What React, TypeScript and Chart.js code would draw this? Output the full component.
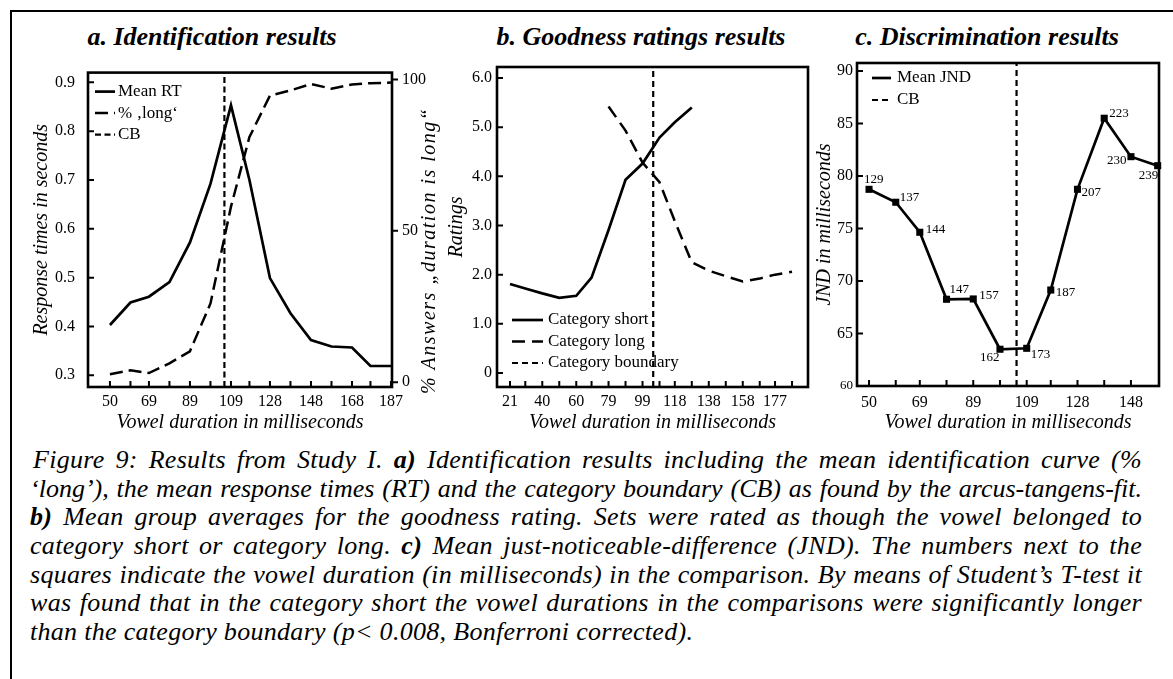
import React, { useEffect, useRef } from 'react';
import { Chart, registerables } from 'chart.js';

Chart.register(...registerables);

const SERIF = '"Liberation Serif", "Times New Roman", Times, serif';

// ---------------- Panel a: identification ----------------
const durationsA = [50, 60, 69, 79, 89, 99, 109, 118, 128, 138, 148, 158, 168, 177, 187];
const meanRT = [0.403, 0.449, 0.461, 0.491, 0.572, 0.692, 0.853, 0.7, 0.499, 0.427, 0.372, 0.359, 0.357, 0.319, 0.319];
const percentLong = [2.6, 3.9, 3.0, 6.2, 10.2, 26, 58, 81, 94.7, 96.4, 98.5, 97, 98.4, 98.8, 99];
const boundaryA = 105.8;
const rtTickValues = [0.3, 0.4, 0.5, 0.6, 0.7, 0.8, 0.9];
const percentTickValues = [0, 50, 100];
const rtRange = [0.276, 0.92];
const percentRange = [-1.6, 102.3];
const durationRangeA = [39.3, 187.5];

// ---------------- Panel b: goodness ratings ----------------
const durationTicksB = [21, 30, 40, 50, 60, 69, 79, 89, 99, 109, 118, 128, 138, 148, 158, 168, 177, 187];
const shortDurations = [21, 30, 40, 50, 60, 69, 79, 89, 99, 109, 118, 128];
const ratingShort = [1.81, 1.72, 1.62, 1.53, 1.57, 1.94, 2.91, 3.93, 4.26, 4.79, 5.1, 5.4];
const longDurations = [79, 89, 99, 109, 118, 128, 138, 148, 158, 168, 177, 187];
const ratingLong = [5.42, 4.93, 4.28, 3.88, 3.09, 2.25, 2.08, 1.97, 1.86, 1.92, 2.0, 2.06];
const boundaryB = 105.3;
const ratingTickValues = [0, 1, 2, 3, 4, 5, 6];
const ratingRange = [-0.285, 6.224];
const durationRangeB = [13.35, 196.4];

// ---------------- Panel c: discrimination ----------------
const durationsC = [50, 60, 69, 79, 89, 99, 109, 118, 128, 138, 148, 158];
const meanJND = [78.73, 77.5, 74.64, 68.26, 68.29, 63.5, 63.59, 69.14, 78.73, 85.5, 81.84, 80.98];
const comparisonDurations = [129, 137, 144, 147, 157, 162, 173, 187, 207, 223, 230, 239];
const durationTicksC = [50, 60, 69, 79, 89, 99, 109, 118, 128, 138, 148];
const jndTickValues = [60, 65, 70, 75, 80, 85, 90];
const boundaryC = 105.2;
const jndRange = [60, 90.76];
const durationRangeC = [45.5, 158.5];

// label placement (style only): offset of text left edge / middle from the marker
const jndLabelOffsets = [
  [-5, -10], [4, -5], [6, -3], [3, -10], [6, -3], [-20, 8],
  [4, 6], [5, 3], [4, 3], [5, -5], [-24, 4], [-19, 10],
];

const tickFont = { family: SERIF, size: 16, lineHeight: 1.2 };
const axisTitleFont = { family: SERIF, size: 20, style: 'italic' as const, lineHeight: 1.2 };

function frameAndTicks(spec: Record<string, { len: number; skip?: number[] }>) {
  return {
    id: 'frameAndTicks',
    afterDraw(chart: any) {
      const { ctx, chartArea: a } = chart;
      ctx.save();
      ctx.setLineDash([]);
      ctx.strokeStyle = '#000';
      ctx.lineWidth = 2.6;
      ctx.strokeRect(a.left, a.top, a.right - a.left, a.bottom - a.top);
      ctx.lineWidth = 2;
      Object.keys(spec).forEach((id) => {
        const s = chart.scales[id];
        const sp = spec[id];
        ctx.beginPath();
        s.ticks.forEach((t: any) => {
          if (sp.skip && sp.skip.includes(t.value)) return;
          const p = s.getPixelForValue(t.value);
          if (s.position === 'bottom') {
            ctx.moveTo(p, a.bottom);
            ctx.lineTo(p, a.bottom - sp.len);
          } else if (s.position === 'left') {
            ctx.moveTo(a.left, p);
            ctx.lineTo(a.left + sp.len, p);
          } else {
            ctx.moveTo(a.right, p);
            ctx.lineTo(a.right + sp.len, p);
          }
        });
        ctx.stroke();
      });
      ctx.restore();
    },
  };
}

function lineLegend(cfg: { x0: number; x1: number; xt: number; y0: number; dy: number; size: number }) {
  return {
    id: 'lineLegend',
    afterDraw(chart: any) {
      const { ctx, chartArea: a } = chart;
      ctx.save();
      ctx.font = `${cfg.size}px ${SERIF}`;
      ctx.fillStyle = '#000';
      ctx.strokeStyle = '#000';
      ctx.textBaseline = 'middle';
      ctx.textAlign = 'left';
      chart.data.datasets.forEach((ds: any, i: number) => {
        const y = a.top + cfg.y0 + i * cfg.dy;
        ctx.beginPath();
        ctx.setLineDash(ds.borderDash || []);
        ctx.lineWidth = ds.borderWidth;
        ctx.moveTo(a.left + cfg.x0, y);
        ctx.lineTo(a.left + cfg.x1, y);
        ctx.stroke();
        ctx.setLineDash([]);
        ctx.fillText(ds.label, a.left + cfg.xt, y);
      });
      ctx.restore();
    },
  };
}

// right-hand axis title, reading bottom-to-top like the left one
function rightAxisTitle(text: string, scaleId: string, fromRight: number, dyFromCenter: number) {
  return {
    id: 'rightAxisTitle',
    afterDraw(chart: any) {
      const { ctx, chartArea: a } = chart;
      const s = chart.scales[scaleId];
      ctx.save();
      ctx.translate(s.right - fromRight, (a.top + a.bottom) / 2 + dyFromCenter);
      ctx.rotate(-Math.PI / 2);
      ctx.font = `italic 20px ${SERIF}`;
      (ctx as any).letterSpacing = '1.5px';
      ctx.fillStyle = '#000';
      ctx.textAlign = 'center';
      ctx.textBaseline = 'middle';
      ctx.fillText(text, 0, 0);
      ctx.restore();
    },
  };
}

const pointLabels = {
  id: 'pointLabels',
  afterDatasetsDraw(chart: any) {
    const { ctx } = chart;
    const meta = chart.getDatasetMeta(0);
    ctx.save();
    ctx.font = `13px ${SERIF}`;
    ctx.fillStyle = '#000';
    ctx.textBaseline = 'middle';
    ctx.textAlign = 'left';
    meta.data.forEach((pt: any, i: number) => {
      const [dx, dy] = jndLabelOffsets[i];
      ctx.fillText(String(comparisonDurations[i]), pt.x + dx, pt.y + dy);
    });
    ctx.restore();
  },
};

function xScale(range: number[], tickValues: number[], height: number, labelPad: number, titlePad: number) {
  return {
    type: 'linear' as const,
    position: 'bottom' as const,
    min: range[0],
    max: range[1],
    afterBuildTicks: (s: any) => {
      s.ticks = tickValues.map((v) => ({ value: v }));
    },
    afterFit: (s: any) => {
      s.height = height;
    },
    grid: { display: false, drawTicks: false },
    border: { display: false },
    ticks: {
      color: '#000',
      font: tickFont,
      padding: labelPad,
      maxRotation: 0,
      autoSkip: false,
      callback: (v: any, i: number) => (i % 2 === 0 ? String(v) : ''),
    },
    title: {
      display: true,
      text: 'Vowel duration in milliseconds',
      color: '#000',
      font: axisTitleFont,
      padding: { top: 0, bottom: titlePad },
    },
  };
}

function yScale(
  position: 'left' | 'right',
  range: number[],
  tickValues: number[],
  width: number,
  labelPad: number,
  title: string,
  titlePad: number,
  fmt: (v: number) => string,
  font?: any
) {
  return {
    type: 'linear' as const,
    position,
    min: range[0],
    max: range[1],
    afterBuildTicks: (s: any) => {
      s.ticks = tickValues.map((v) => ({ value: v }));
    },
    afterFit: (s: any) => {
      s.width = width;
    },
    grid: { display: false, drawTicks: false },
    border: { display: false },
    ticks: {
      color: '#000',
      font: font || tickFont,
      padding: labelPad,
      autoSkip: false,
      callback: (v: any) => fmt(Number(v)),
    },
    title: {
      display: title !== '',
      text: title,
      color: '#000',
      font: axisTitleFont,
      padding: { top: titlePad, bottom: 0 },
    },
  };
}

const basePlugins = { legend: { display: false }, tooltip: { enabled: false }, title: { display: false } };

function makeChartA(canvas: HTMLCanvasElement) {
  return new Chart(canvas, {
    type: 'line',
    data: {
      datasets: [
        {
          label: 'Mean RT',
          data: durationsA.map((d, i) => ({ x: d, y: meanRT[i] })),
          yAxisID: 'y',
          borderColor: '#000',
          borderWidth: 2.7,
          pointRadius: 0,
        },
        {
          label: '% \u201Along\u2018',
          data: durationsA.map((d, i) => ({ x: d, y: percentLong[i] })),
          yAxisID: 'y1',
          borderColor: '#000',
          borderWidth: 2.5,
          borderDash: [13, 6],
          pointRadius: 0,
        },
        {
          label: 'CB',
          data: [
            { x: boundaryA, y: rtRange[0] },
            { x: boundaryA, y: rtRange[1] },
          ],
          yAxisID: 'y',
          borderColor: '#000',
          borderWidth: 2.2,
          borderDash: [6, 3.5],
          pointRadius: 0,
        },
      ],
    },
    options: {
      responsive: false,
      animation: false,
      layout: { padding: { top: 17, left: 0, right: 0, bottom: 0 } },
      plugins: basePlugins as any,
      scales: {
        x: xScale(durationRangeA, durationsA, 53, 5, 5) as any,
        y: yScale('left', rtRange, rtTickValues, 68, 13, 'Response times in seconds', 10, (v) => v.toFixed(1)) as any,
        y1: yScale('right', percentRange, percentTickValues, 58, 10, '', 0, (v) => String(v)) as any,
      },
    },
    plugins: [
      frameAndTicks({ x: { len: 6 }, y: { len: 6 }, y1: { len: 6 } }),
      lineLegend({ x0: 7, x1: 27, xt: 30, y0: 19, dy: 21.5, size: 17 }),
      rightAxisTitle('% Answers \u201Eduration is long\u201C', 'y1', 20, 21),
    ],
  });
}

function makeChartB(canvas: HTMLCanvasElement) {
  return new Chart(canvas, {
    type: 'line',
    data: {
      datasets: [
        {
          label: 'Category short',
          data: shortDurations.map((d, i) => ({ x: d, y: ratingShort[i] })),
          borderColor: '#000',
          borderWidth: 2.7,
          pointRadius: 0,
        },
        {
          label: 'Category long',
          data: longDurations.map((d, i) => ({ x: d, y: ratingLong[i] })),
          borderColor: '#000',
          borderWidth: 2.5,
          borderDash: [13, 7],
          pointRadius: 0,
        },
        {
          label: 'Category boundary',
          data: [
            { x: boundaryB, y: ratingRange[0] },
            { x: boundaryB, y: ratingRange[1] },
          ],
          borderColor: '#000',
          borderWidth: 2.2,
          borderDash: [6, 4],
          pointRadius: 0,
        },
      ],
    },
    options: {
      responsive: false,
      animation: false,
      layout: { padding: { top: 17, left: 0, right: 12, bottom: 0 } },
      plugins: basePlugins as any,
      scales: {
        x: xScale(durationRangeB, durationTicksB, 53, 5, 5) as any,
        y: yScale('left', ratingRange, ratingTickValues, 57, 5, 'Ratings', 5, (v) => (v === 0 ? '0' : v.toFixed(1))) as any,
      },
    },
    plugins: [
      frameAndTicks({ x: { len: 6 }, y: { len: 6 } }),
      lineLegend({ x0: 15, x1: 46, xt: 51, y0: 253, dy: 21.5, size: 17 }),
    ],
  });
}

function makeChartC(canvas: HTMLCanvasElement) {
  return new Chart(canvas, {
    type: 'line',
    data: {
      datasets: [
        {
          label: 'Mean JND',
          data: durationsC.map((d, i) => ({ x: d, y: meanJND[i] })),
          borderColor: '#000',
          backgroundColor: '#000',
          borderWidth: 2.7,
          pointStyle: 'rect',
          pointRadius: 5,
          pointBorderWidth: 0,
          clip: false as any,
        },
        {
          label: 'CB',
          data: [
            { x: boundaryC, y: jndRange[0] },
            { x: boundaryC, y: jndRange[1] },
          ],
          borderColor: '#000',
          borderWidth: 2.2,
          borderDash: [6, 4],
          pointRadius: 0,
        },
      ],
    },
    options: {
      responsive: false,
      animation: false,
      layout: { padding: { top: 17, left: 0, right: 14, bottom: 0 } },
      plugins: basePlugins as any,
      scales: {
        x: xScale(durationRangeC, durationTicksC, 54, 7, 5) as any,
        y: yScale('left', jndRange, jndTickValues, 57, 4, 'JND in milliseconds', 13, (v) => String(v), (c: any) =>
          c.tick && c.tick.value === 60 ? { family: SERIF, size: 13, lineHeight: 1.2 } : tickFont
        ) as any,
      },
    },
    plugins: [
      frameAndTicks({ x: { len: 6 }, y: { len: 6, skip: [60] } }),
      lineLegend({ x0: 15, x1: 34, xt: 40, y0: 15, dy: 22, size: 17 }),
      pointLabels,
    ],
  });
}

const panelTitleStyle: React.CSSProperties = {
  position: 'absolute',
  top: 22,
  width: 400,
  textAlign: 'center',
  fontFamily: SERIF,
  fontWeight: 'bold',
  fontStyle: 'italic',
  fontSize: 26,
  lineHeight: '30px',
  whiteSpace: 'nowrap',
};

const captionLine: React.CSSProperties = {
  textAlign: 'justify',
  textAlignLast: 'justify' as any,
  height: 28.7,
  lineHeight: '28.7px',
  whiteSpace: 'normal',
};

export default function App() {
  const refA = useRef<HTMLCanvasElement>(null);
  const refB = useRef<HTMLCanvasElement>(null);
  const refC = useRef<HTMLCanvasElement>(null);

  useEffect(() => {
    const charts = [makeChartA(refA.current!), makeChartB(refB.current!), makeChartC(refC.current!)];
    return () => charts.forEach((c) => c.destroy());
  }, []);

  const canvasStyle = (left: number, top: number, w: number, h: number): React.CSSProperties => ({
    position: 'absolute',
    left,
    top,
    width: w,
    height: h,
  });

  return (
    <div
      style={{
        position: 'absolute',
        left: 0,
        top: 0,
        width: 1173,
        height: 679,
        background: '#fff',
        overflow: 'hidden',
        fontFamily: SERIF,
        color: '#000',
      }}
    >
      <div
        style={{
          position: 'absolute',
          left: 10,
          top: 10,
          right: -5,
          bottom: -5,
          borderTop: '2px solid #000',
          borderLeft: '2px solid #000',
        }}
      />
      <div style={{ ...panelTitleStyle, left: 212 - 200 }}>a. Identification results</div>
      <div style={{ ...panelTitleStyle, left: 641 - 200 }}>b. Goodness ratings results</div>
      <div style={{ ...panelTitleStyle, left: 987 - 200 }}>c. Discrimination results</div>

      <canvas ref={refA} width={430} height={390} style={canvasStyle(20, 50, 430, 390)} />
      <canvas ref={refB} width={380} height={390} style={canvasStyle(440, 50, 380, 390)} />
      <canvas ref={refC} width={373} height={394} style={canvasStyle(800, 46, 373, 394)} />

      <div
        style={{
          position: 'absolute',
          left: 30,
          top: 446,
          width: 1112,
          fontFamily: SERIF,
          fontStyle: 'italic',
          fontSize: 26,
          letterSpacing: '0.3px',
        }}
      >
        <div style={{ ...captionLine, paddingLeft: 3 }}>
          Figure 9: Results from Study I. <b>a)</b> Identification results including the mean identification curve (%
        </div>
        <div style={{ ...captionLine, letterSpacing: 0, wordSpacing: '-1.5px' }}>
          {'\u2018long\u2019), the mean response times (RT) and the category boundary (CB) as found by the arcus\u2011tangens\u2011fit.'}
        </div>
        <div style={captionLine}>
          <b>b)</b> Mean group averages for the goodness rating. Sets were rated as though the vowel belonged to
        </div>
        <div style={captionLine}>
          category short or category long. <b>c)</b> Mean just-noticeable-difference (JND). The numbers next to the
        </div>
        <div style={captionLine}>
          {'squares indicate the vowel duration (in milliseconds) in the comparison. By means of Student\u2019s T-test it'}
        </div>
        <div style={captionLine}>
          was found that in the category short the vowel durations in the comparisons were significantly longer
        </div>
        <div style={{ ...captionLine, textAlign: 'left', textAlignLast: 'left' as any }}>
          than the category boundary (p&lt; 0.008, Bonferroni corrected).
        </div>
      </div>
    </div>
  );
}
